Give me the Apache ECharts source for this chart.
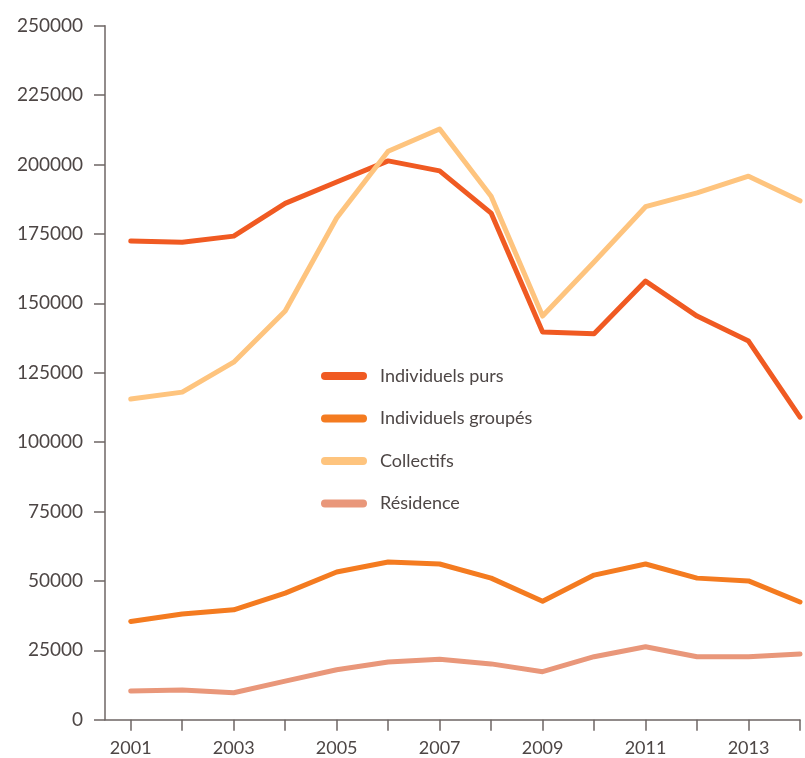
<!DOCTYPE html>
<html><head><meta charset="utf-8">
<script src="https://cdn.jsdelivr.net/npm/echarts@6/dist/echarts.min.js"></script>
<style>html,body{margin:0;padding:0;background:#fff}#c{width:805px;height:758px}</style>
</head><body><div id="c"></div>
<script>
const years = [2001,2002,2003,2004,2005,2006,2007,2008,2009,2010,2011,2012,2013,2014];
const xLabelYears = [2001,2003,2005,2007,2009,2011,2013];
const seriesNames = ['Individuels purs','Individuels groupés','Collectifs','Résidence'];
const individuelsPurs = [172400,172000,174200,186000,193700,201300,197700,182500,139700,139000,158000,145400,136400,109000];
const individuelsGroupes = [35400,38100,39600,45600,53200,56800,56100,51000,42700,52100,56100,51000,50000,42400];
const collectifs = [115500,118000,128800,147200,180700,204800,212800,188600,145400,164900,184800,189800,195800,186900];
const residence = [10300,10700,9700,13900,18000,20800,21800,20100,17300,22700,26300,22700,22700,23700];
const colors = ['#f05a22','#f47b20','#fec47e','#e9977a'];

const font = 'Lato';
const txt = '#4d4645';
const axisCol = '#6e6664';
const allData = [individuelsPurs, individuelsGroupes, collectifs, residence];

const chart = echarts.init(document.getElementById('c'));
chart.setOption({
  animation: false,
  grid: {left: 105, right: 5, top: 25.7, bottom: 38.3, containLabel: false},
  legend: {
    orient: 'vertical', left: 316, top: 362,
    itemWidth: 46, itemHeight: 8, itemGap: 24.5,
    icon: 'path://M4,0 H42 A4,4 0 0 1 42,8 H4 A4,4 0 0 1 4,0 Z',
    textStyle: {fontFamily: font, fontSize: 18, color: txt, padding: [0,0,0,8]},
    data: seriesNames
  },
  xAxis: {
    type: 'value', min: 2000.5, max: 2014,
    splitLine: {show: false},
    axisLine: {lineStyle: {color: axisCol, width: 1.5}},
    axisTick: {show: true, length: 11, lineStyle: {color: axisCol, width: 1.5}, customValues: years},
    axisLabel: {customValues: xLabelYears, margin: 19, fontFamily: font, fontSize: 18, color: txt, formatter: v => String(v)}
  },
  yAxis: {
    type: 'value', min: 0, max: 250000, interval: 25000,
    splitLine: {show: false},
    axisLine: {show: true, lineStyle: {color: axisCol, width: 1.5}},
    axisTick: {show: true, length: 11, lineStyle: {color: axisCol, width: 1.5}},
    axisLabel: {margin: 22, fontFamily: font, fontSize: 19, color: txt, formatter: v => String(v)}
  },
  series: seriesNames.map((n, i) => ({
    name: n, type: 'line', symbol: 'none',
    data: years.map((y, j) => [y, allData[i][j]]),
    lineStyle: {color: colors[i], width: 5, cap: 'round', join: 'round'},
    itemStyle: {color: colors[i]}
  }))
});
</script></body></html>
